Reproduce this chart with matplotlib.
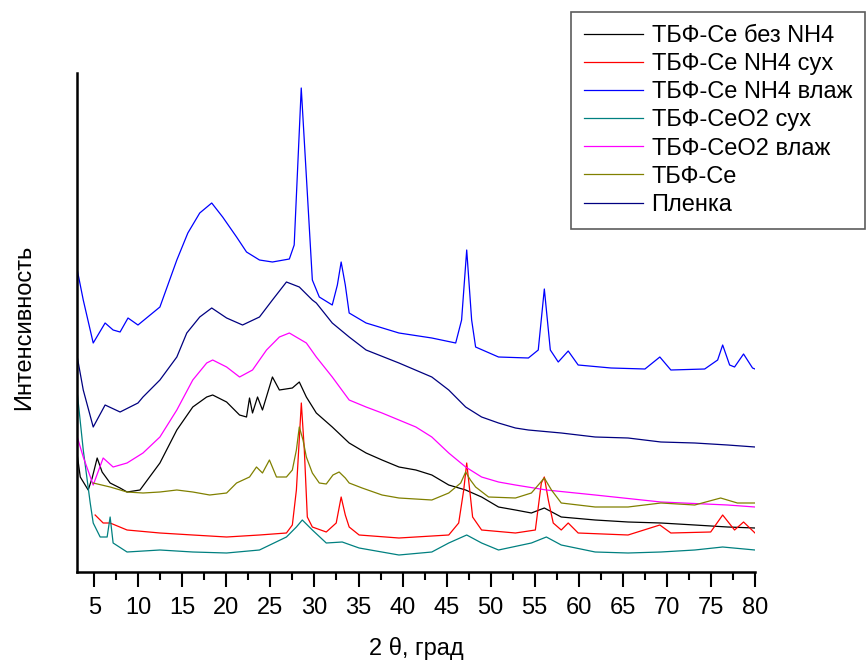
import matplotlib
matplotlib.use("Agg")
import matplotlib.pyplot as plt
from matplotlib.ticker import MultipleLocator

plt.rcParams['font.family'] = ['Liberation Sans', 'DejaVu Sans']

# ТБФ-Ce NH4 влаж (top, blue)
x_nh4_vl = [3.08, 3.76, 4.89, 6.24, 7.15, 7.94, 8.84, 9.97, 12.46, 14.38, 15.63, 16.98, 18.34,
            19.58, 21.16, 22.29, 23.76, 25.23, 27.15, 27.7, 28.5, 29.19, 29.76, 30.55, 32.02,
            32.6, 33.03, 33.5, 33.94, 35.86, 39.59, 43.32, 46.03, 46.7, 47.28, 47.84, 48.29,
            50.89, 54.28, 55.4, 56.09, 56.77, 57.67, 58.8, 59.93, 63.66, 67.51, 69.2, 70.45,
            74.29, 75.76, 76.33, 77.12, 77.68, 78.7, 79.72, 80.0]
y_nh4_vl = [302, 272, 229, 249, 242, 240, 254, 247, 265, 312, 339, 359, 369,
            355, 335, 320, 312, 310, 313, 327, 484, 379, 292, 275, 267,
            287, 310, 287, 259, 249, 239, 234, 229, 252, 322, 252, 225,
            215, 214, 222, 283, 222, 210, 221, 207, 204, 203, 215, 202,
            203, 212, 227, 207, 205, 218, 204, 203]

# Пленка (navy)
x_film = [3.08, 3.76, 4.89, 6.24, 7.94, 9.97, 10.54, 12.46, 14.38, 15.51, 16.98, 18.34, 20.03,
          21.84, 23.76, 25.23, 26.82, 28.28, 29.76, 30.21, 32.02, 33.94, 35.86, 39.59, 43.32,
          45.24, 47.16, 48.97, 50.89, 52.81, 54.28, 58.01, 61.86, 65.59, 69.32, 73.16, 76.89, 80.0]
y_film = [215, 182, 145, 167, 160, 169, 175, 192, 215, 239, 255, 264, 254,
          247, 255, 272, 290, 285, 272, 269, 249, 235, 222, 209, 195,
          182, 165, 155, 149, 144, 142, 139, 135, 134, 130, 129, 127, 125]

# ТБФ-CeO2 влаж (magenta)
x_ceo2_vl = [3.08, 3.76, 4.89, 6.02, 7.15, 8.73, 10.54, 12.46, 14.38, 16.19, 17.77, 18.45, 20.03,
             21.5, 22.97, 24.56, 26.02, 27.15, 29.08, 30.21, 32.02, 33.94, 35.86, 37.67, 39.59,
             41.51, 43.32, 45.24, 47.16, 48.97, 50.89, 52.81, 56.32, 61.86, 69.32, 76.89, 80.0]
y_ceo2_vl = [135, 115, 87, 114, 105, 109, 119, 135, 162, 192, 209, 212, 205,
             195, 202, 222, 235, 239, 229, 215, 195, 172, 165, 159, 152,
             145, 135, 119, 105, 95, 90, 87, 82, 77, 70, 67, 65]

# ТБФ-Ce без NH4 (black)
x_no_nh4 = [3.08, 3.42, 4.32, 4.77, 5.34, 5.9, 6.81, 7.94, 8.73, 10.2, 12.46, 14.38, 16.19,
            17.77, 18.45, 20.03, 21.5, 22.29, 22.63, 22.97, 23.54, 24.1, 25.23, 26.02, 27.49,
            28.28, 29.08, 30.21, 32.02, 33.94, 35.86, 37.67, 39.59, 41.51, 43.32, 45.24, 47.16,
            48.97, 50.89, 52.81, 54.62, 56.09, 58.01, 61.86, 65.59, 69.32, 73.16, 76.89, 80.0]
y_no_nh4 = [117, 95, 82, 94, 114, 100, 89, 84, 80, 82, 109, 142, 165,
            175, 177, 170, 157, 155, 174, 159, 175, 162, 195, 182, 184,
            190, 175, 159, 145, 129, 119, 112, 105, 102, 97, 87, 82,
            75, 65, 62, 59, 64, 55, 52, 50, 49, 47, 45, 44]

# ТБФ-Ce (olive)
x_tbf = [4.89, 6.81, 8.73, 10.54, 12.46, 14.38, 16.19, 18.11, 20.03, 21.16, 22.63, 23.42, 24.1,
         24.89, 25.69, 26.82, 27.49, 27.95, 28.28, 28.7, 29.08, 29.76, 30.55, 31.34, 32.1,
         32.8, 33.5, 33.94, 35.41, 37.67, 39.59, 43.32, 45.24, 46.6, 47.16, 47.7, 48.29,
         49.76, 52.81, 54.62, 56.09, 56.9, 58.01, 61.86, 65.59, 69.32, 73.16, 76.1, 78.0, 80.0]
y_tbf = [89, 85, 80, 79, 80, 82, 80, 77, 79, 89, 95, 105, 99,
         112, 95, 95, 102, 122, 145, 132, 115, 99, 89, 88, 97,
         100, 94, 89, 84, 77, 74, 72, 79, 89, 100, 92, 85,
         75, 74, 79, 94, 82, 69, 65, 65, 69, 67, 74, 69, 69]

# ТБФ-Ce NH4 сух (red)
x_nh4_dry = [5.11, 6.02, 6.81, 8.73, 12.46, 16.19, 20.03, 23.76, 26.82, 27.49, 27.95, 28.51, 28.85,
             29.19, 29.76, 31.34, 32.47, 33.03, 33.5, 33.94, 35.07, 39.59, 45.24, 46.37, 46.94,
             47.28, 47.62, 47.95, 48.97, 52.81, 55.07, 55.75, 56.09, 56.54, 57.1, 58.01, 58.8,
             59.93, 65.59, 69.2, 70.45, 74.97, 76.33, 77.68, 78.7, 80.0]
y_nh4_dry = [57, 49, 49, 42, 39, 37, 35, 37, 39, 47, 82, 169, 122,
             55, 45, 40, 49, 75, 57, 45, 37, 34, 37, 49, 82,
             109, 82, 55, 42, 39, 42, 89, 95, 72, 49, 42, 49,
             39, 37, 47, 39, 40, 57, 42, 50, 39]

# ТБФ-CeO2 сух (teal)
x_ceo2_dry = [3.08, 3.76, 4.55, 4.89, 5.68, 6.47, 6.81, 7.15, 8.73, 12.46, 16.19, 20.03, 23.76,
              26.82, 27.95, 28.62, 29.76, 31.34, 33.15, 35.07, 39.59, 43.32, 45.24, 47.28, 48.97,
              50.89, 54.62, 56.32, 58.01, 61.86, 65.59, 69.32, 73.16, 76.33, 80.0]
y_ceo2_dry = [179, 122, 69, 49, 35, 35, 55, 29, 20, 22, 20, 19, 22,
              35, 45, 52, 42, 29, 30, 24, 17, 20, 29, 37, 29,
              22, 29, 35, 27, 20, 19, 20, 22, 25, 22]

x_ticks = list(range(5, 81, 5))

fig = plt.figure(figsize=(8.67, 6.61), dpi=100)
ax = fig.add_axes([77 / 867, 89 / 661, 678 / 867, 499 / 661])

lw = 0.9
ax.plot(x_no_nh4, y_no_nh4, color='#000000', lw=lw, label='ТБФ-Ce без NH4')
ax.plot(x_nh4_dry, y_nh4_dry, color='#ff0000', lw=lw, label='ТБФ-Ce NH4 сух')
ax.plot(x_nh4_vl, y_nh4_vl, color='#0000ff', lw=lw, label='ТБФ-Ce NH4 влаж')
ax.plot(x_ceo2_dry, y_ceo2_dry, color='#008080', lw=lw, label='ТБФ-CeO2 сух')
ax.plot(x_ceo2_vl, y_ceo2_vl, color='#ff00ff', lw=lw, label='ТБФ-CeO2 влаж')
ax.plot(x_tbf, y_tbf, color='#808000', lw=lw, label='ТБФ-Ce')
ax.plot(x_film, y_film, color='#000080', lw=lw, label='Пленка')

ax.set_xlim(3.05, 80)
ax.set_ylim(0, 499)
ax.set_xticks(x_ticks)
ax.xaxis.set_minor_locator(MultipleLocator(2.5))
ax.set_yticks([])
ax.tick_params(axis='x', which='major', length=11, width=1.5, direction='out', labelsize=17, pad=7)
ax.tick_params(axis='x', which='minor', length=6, width=1.5, direction='out')
for s in ['top', 'right']:
    ax.spines[s].set_visible(False)
for s in ['left', 'bottom']:
    ax.spines[s].set_linewidth(1.8)

ax.set_xlabel('2 θ, град', fontsize=17)
ax.xaxis.set_label_coords(0.5, -0.13)
ax.set_ylabel('Интенсивность', fontsize=17)
ax.yaxis.set_label_coords(-0.062, 0.49)

leg = fig.legend(loc='upper right', bbox_to_anchor=(865 / 867, 1 - 12 / 661),
                 fontsize=17, frameon=True, fancybox=False, edgecolor='#333333',
                 handlelength=2.5, handletextpad=0.35, labelspacing=0.26,
                 borderpad=0.55, borderaxespad=0)
leg.get_frame().set_linewidth(1.2)

fig.savefig('out.png', dpi=100)
